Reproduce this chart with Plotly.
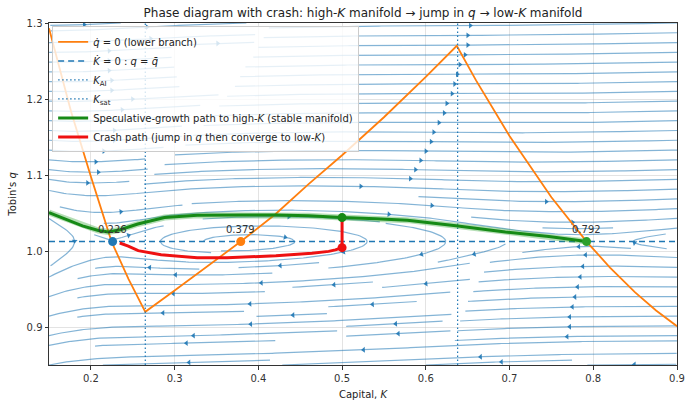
import numpy as np
import bisect
import plotly.graph_objects as go

# ---------------- data ----------------
qbar = 1.0124
K_AI = 0.265
K_sat = 0.638

# q-dot = 0 (lower branch)
qdot0_K = [0.15, 0.1765, 0.20, 0.2247, 0.245, 0.265, 0.30, 0.34, 0.379, 0.42, 0.46,
           0.50, 0.55, 0.60, 0.637, 0.66, 0.70, 0.75, 0.792, 0.82, 0.85, 0.875, 0.90]
qdot0_q = [1.293, 1.183, 1.098, 1.0124, 0.963, 0.920, 0.948, 0.980, 1.0124, 1.048, 1.088,
           1.126, 1.176, 1.229, 1.270, 1.2245, 1.1514, 1.0708, 1.0124, 0.9782, 0.9456, 0.9218, 0.901]

# speculative-growth path (stable manifold to high-K)
green_K = [0.15, 0.17, 0.19, 0.209, 0.221, 0.235, 0.256, 0.288, 0.327, 0.38, 0.421, 0.46,
           0.50, 0.54, 0.578, 0.636, 0.695, 0.747, 0.792]
green_q = [1.0505, 1.042, 1.033, 1.027, 1.025, 1.028, 1.0355, 1.044, 1.047, 1.0475, 1.0475,
           1.0465, 1.044, 1.0425, 1.0406, 1.0333, 1.025, 1.019, 1.0124]

# crash path
red_K = [0.5, 0.5, 0.492, 0.484, 0.464, 0.445, 0.421, 0.3624, 0.327, 0.2839, 0.2565, 0.2447, 0.2345]
red_q = [1.044, 1.0044, 1.0015, 0.9995, 0.997, 0.9955, 0.9936, 0.9912, 0.9910, 0.9950, 1.0005, 1.0065, 1.0105]

eq_K = [0.226, 0.379, 0.792]
eq_labels = ["0.226", "0.379", "0.792"]
eq_colors = ["#1f77b4", "#ff7f0e", "#2ca02c"]

crash_K = 0.5
crash_q_high = 1.044
crash_q_low = 1.0044

x_ticks = [0.2, 0.3, 0.4, 0.5, 0.6, 0.7, 0.8, 0.9]
y_ticks = [0.9, 1.0, 1.1, 1.2, 1.3]
x_range = [0.15, 0.9]
y_range = [0.85, 1.3]

# dynamics parameters for the streamline field
adj_speed = 1.0
disc_rate = 0.0125
stream_density = 1.2

# ---------------- figure ----------------
W, H = 693, 407
ML, MR, MT, MB = 49, 8, 23, 32
px_per_K = (W - ML - MR) / (x_range[1] - x_range[0])
px_per_q = (H - MT - MB) / (y_range[1] - y_range[0])
KR = x_range[1] - x_range[0]
QR = y_range[1] - y_range[0]


def g_of(k):
    i = bisect.bisect_right(qdot0_K, k)
    if i <= 0:
        return qdot0_q[0]
    if i >= len(qdot0_K):
        return qdot0_q[-1]
    k0, k1 = qdot0_K[i - 1], qdot0_K[i]
    t = (k - k0) / (k1 - k0)
    return qdot0_q[i - 1] * (1 - t) + qdot0_q[i] * t


def field(k, q):
    return adj_speed * k * (q - qbar), disc_rate * (q - g_of(k))


def dir_norm(X, Y):
    k = x_range[0] + X * KR
    q = y_range[0] + Y * QR
    u, v = field(k, q)
    ux, vy = u / KR, v / QR
    sp = (ux * ux + vy * vy) ** 0.5
    if sp < 1e-12:
        return None
    return ux / sp, vy / sp


# ---- a small streamplot (matplotlib-like: mask grid, spiral seeds) ----
NM = int(30 * stream_density)
mask = np.zeros((NM, NM), dtype=int)


def mcell(X, Y):
    return int(round(X * (NM - 1))), int(round(Y * (NM - 1)))


def integrate_dir(X, Y, sign, tid, maxlen=4.0):
    ds = 0.15 / NM
    pts = []
    s = 0.0
    cur = mcell(X, Y)
    while s < maxlen:
        d1 = dir_norm(X, Y)
        if d1 is None:
            break
        Xm, Ym = X + sign * 0.5 * ds * d1[0], Y + sign * 0.5 * ds * d1[1]
        if not (0 <= Xm <= 1 and 0 <= Ym <= 1):
            break
        d2 = dir_norm(Xm, Ym)
        if d2 is None:
            break
        Xn, Yn = X + sign * ds * d2[0], Y + sign * ds * d2[1]
        if not (0 <= Xn <= 1 and 0 <= Yn <= 1):
            break
        c = mcell(Xn, Yn)
        if c != cur:
            if mask[c[1], c[0]] != 0:
                break
            mask[c[1], c[0]] = tid
            cur = c
        X, Y = Xn, Yn
        pts.append((X, Y))
        s += ds
    return pts, s


def gen_seeds(n):
    xfirst, yfirst, xlast, ylast = 0, 1, n - 1, n - 1
    x, y = 0, 0
    direction = "right"
    for _ in range(n * n):
        yield x, y
        if direction == "right":
            x += 1
            if x >= xlast:
                xlast -= 1
                direction = "up"
        elif direction == "up":
            y += 1
            if y >= ylast:
                ylast -= 1
                direction = "left"
        elif direction == "left":
            x -= 1
            if x <= xfirst:
                xfirst += 1
                direction = "down"
        elif direction == "down":
            y -= 1
            if y <= yfirst:
                yfirst += 1
                direction = "right"


trajs = []
tid = 0
for xm, ym in gen_seeds(NM):
    if mask[ym, xm] != 0:
        continue
    tid += 1
    X0, Y0 = xm / (NM - 1), ym / (NM - 1)
    mask[ym, xm] = tid
    back, sb = integrate_dir(X0, Y0, -1, tid)
    fwd, sf = integrate_dir(X0, Y0, 1, tid)
    if sb + sf < 0.1:
        mask[mask == tid] = 0
        mask[ym, xm] = -1
        continue
    pts = back[::-1] + [(X0, Y0)] + fwd
    trajs.append(pts)

sl_x, sl_y = [], []
ar_x, ar_y, ar_ang = [], [], []
for pts in trajs:
    ks = [x_range[0] + p[0] * KR for p in pts]
    qs = [y_range[0] + p[1] * QR for p in pts]
    sl_x += ks + [None]
    sl_y += qs + [None]
    ka, qa = np.array(ks), np.array(qs)
    cum = np.cumsum(np.hypot(np.diff(ka), np.diff(qa)))
    n = int(np.searchsorted(cum, cum[-1] / 2.0))
    n = min(n, len(ks) - 2)
    dk = ks[n + 1] - ks[n]
    dq = qs[n + 1] - qs[n]
    ang = -np.degrees(np.arctan2(dq * px_per_q, dk * px_per_K))
    ar_x.append(ks[n]); ar_y.append(qs[n]); ar_ang.append(ang)

fig = go.Figure()
fig.add_trace(go.Scatter(x=sl_x, y=sl_y, mode="lines", showlegend=False, hoverinfo="skip",
                         line=dict(color="rgba(31,119,180,0.55)", width=1.2)))
fig.add_trace(go.Scatter(x=ar_x, y=ar_y, mode="markers", showlegend=False, hoverinfo="skip",
                         marker=dict(symbol="triangle-right", size=5, angle=ar_ang,
                                     color="rgba(31,119,180,0.9)", line=dict(width=0))))

fig.add_trace(go.Scatter(x=qdot0_K, y=qdot0_q, mode="lines", name="<i>q̇</i> = 0 (lower branch)",
                         line=dict(color="#ff7f0e", width=1.8)))
fig.add_trace(go.Scatter(x=x_range, y=[qbar, qbar], mode="lines", name="<i>K̇</i> = 0 : <i>q</i> = <i>q̄</i>",
                         line=dict(color="#1f77b4", width=1.5, dash="6px,4px")))
fig.add_trace(go.Scatter(x=[K_AI, K_AI], y=y_range, mode="lines", name="<i>K</i><sub>AI</sub>",
                         line=dict(color="#1f77b4", width=1.2, dash="1.5px,2.5px")))
fig.add_trace(go.Scatter(x=[K_sat, K_sat], y=y_range, mode="lines", name="<i>K</i><sub>sat</sub>",
                         line=dict(color="#1f77b4", width=1.2, dash="1.5px,2.5px")))
fig.add_trace(go.Scatter(x=green_K, y=green_q, mode="lines", showlegend=False, hoverinfo="skip",
                         line=dict(color="rgba(44,160,44,0.35)", width=6)))
fig.add_trace(go.Scatter(x=green_K, y=green_q, mode="lines",
                         name="Speculative-growth path to high-<i>K</i> (stable manifold)",
                         line=dict(color="#168a16", width=3)))
fig.add_trace(go.Scatter(x=red_K, y=red_q, mode="lines",
                         name="Crash path (jump in <i>q</i> then converge to low-<i>K</i>)",
                         line=dict(color="#ee1111", width=3)))
fig.add_trace(go.Scatter(x=eq_K, y=[qbar] * 3, mode="markers", showlegend=False,
                         marker=dict(color=eq_colors, size=9)))
fig.add_trace(go.Scatter(x=[crash_K, crash_K], y=[crash_q_high, crash_q_low], mode="markers",
                         showlegend=False, marker=dict(color=["#168a16", "#ee1111"], size=9)))

for k, lab in zip(eq_K, eq_labels):
    fig.add_annotation(x=k, y=qbar, text=lab, showarrow=False, yshift=12,
                       font=dict(size=10, color="#333333"))

axis_common = dict(showline=True, linecolor="#333333", linewidth=1, mirror=True,
                   ticks="outside", ticklen=3.5, tickcolor="#333333",
                   gridcolor="rgba(176,176,176,0.35)", zeroline=False,
                   tickfont=dict(size=10, color="#333333"))

fig.update_layout(
    width=W, height=H,
    margin=dict(l=ML, r=MR, t=MT, b=MB),
    paper_bgcolor="white", plot_bgcolor="white",
    font=dict(family="DejaVu Sans", size=10, color="#222222"),
    title=dict(text="Phase diagram with crash: high-<i>K</i> manifold → jump in <i>q</i> → low-<i>K</i> manifold",
               x=0.5, xref="paper", y=1 - 12.5 / H, yref="container", yanchor="middle",
               font=dict(size=12, color="#222222")),
    xaxis=dict(range=x_range, tickvals=x_ticks, ticktext=[f"{t:.1f}" for t in x_ticks],
               title=dict(text="Capital, <i>K</i>", standoff=8, font=dict(size=10)), **axis_common),
    yaxis=dict(range=y_range, tickvals=y_ticks, ticktext=[f"{t:.1f}" for t in y_ticks],
               title=dict(text="Tobin's <i>q</i>", standoff=8, font=dict(size=10)), **axis_common),
    legend=dict(x=0.005, y=0.99, xanchor="left", yanchor="top",
                bgcolor="rgba(255,255,255,0.8)", bordercolor="#cccccc", borderwidth=1,
                font=dict(size=10, color="#222222"), tracegroupgap=0),
)

fig.write_html("out.html", config={"displayModeBar": False},
               post_script="document.body.style.margin='0';document.body.style.overflow='hidden';")
